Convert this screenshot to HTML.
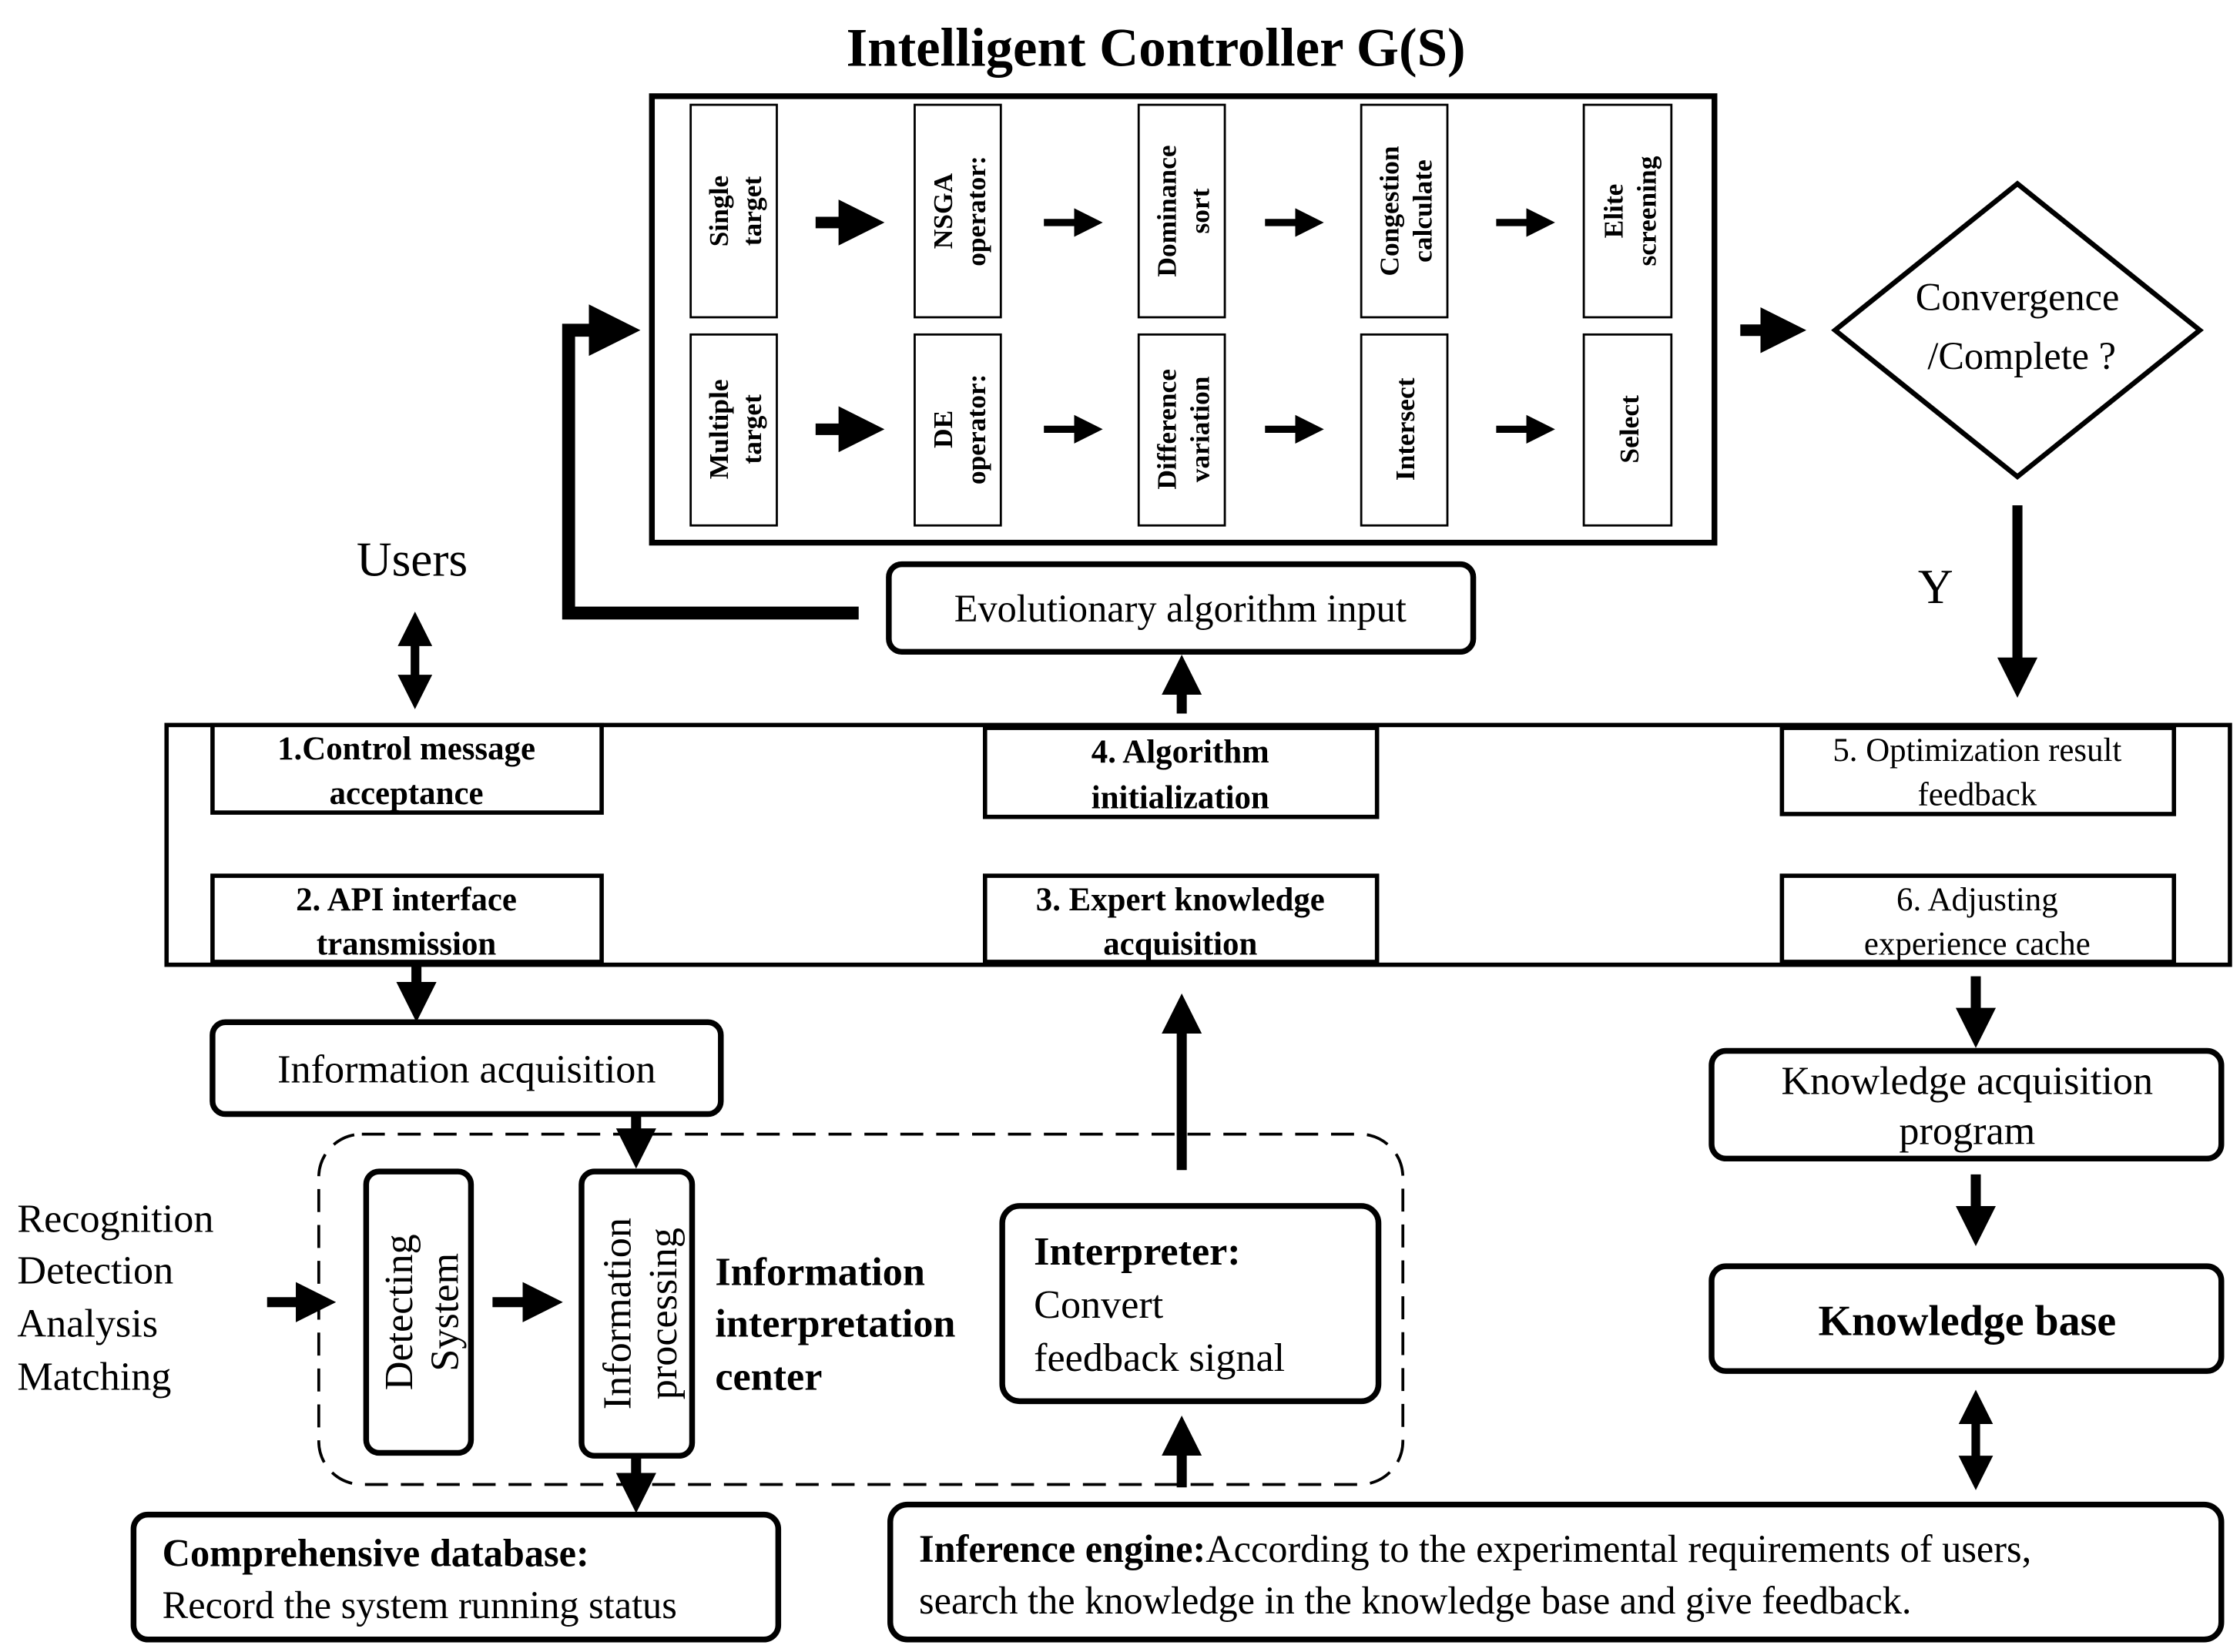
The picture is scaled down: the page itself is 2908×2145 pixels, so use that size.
<!DOCTYPE html>
<html><head><meta charset="utf-8"><style>html,body{margin:0;padding:0;background:#fff}svg{display:block}svg text{font-family:"Liberation Serif","Times New Roman",serif}</style></head>
<body>
<svg xmlns="http://www.w3.org/2000/svg" width="2908" height="2145" viewBox="0 0 1560 1150.7" font-family="'Liberation Serif', serif">
<defs>
<marker id="ah" viewBox="0 0 10 10" refX="5" refY="5" markerWidth="4" markerHeight="4" orient="auto-start-reverse"><path d="M0,0 L10,5 L0,10 z" fill="#000"/></marker>
</defs>
<rect width="1560" height="1151" fill="#fff"/>
<text x="805" y="46" font-size="38" font-weight="bold" text-anchor="middle">Intelligent Controller G(S)</text>
<rect x="454" y="67" width="740" height="311" fill="none" stroke="#000" stroke-width="4"/>
<g fill="none" stroke="#000" stroke-width="1.5">
<rect x="481" y="73" width="60" height="148"/><rect x="637" y="73" width="60" height="148"/><rect x="793" y="73" width="60" height="148"/><rect x="948" y="73" width="60" height="148"/><rect x="1103" y="73" width="61" height="148"/>
<rect x="481" y="233" width="60" height="133"/><rect x="637" y="233" width="60" height="133"/><rect x="793" y="233" width="60" height="133"/><rect x="948" y="233" width="60" height="133"/><rect x="1103" y="233" width="61" height="133"/>
</g>
<g font-size="19" font-weight="bold" text-anchor="middle">
<text transform="translate(511,147) rotate(-90)"><tspan x="0" y="-4">Single</tspan><tspan x="0" y="19">target</tspan></text>
<text transform="translate(667,147) rotate(-90)"><tspan x="0" y="-4">NSGA</tspan><tspan x="0" y="19">operator:</tspan></text>
<text transform="translate(823,147) rotate(-90)"><tspan x="0" y="-4">Dominance</tspan><tspan x="0" y="19">sort</tspan></text>
<text transform="translate(978,147) rotate(-90)"><tspan x="0" y="-4">Congestion</tspan><tspan x="0" y="19">calculate</tspan></text>
<text transform="translate(1134,147) rotate(-90)"><tspan x="0" y="-4">Elite</tspan><tspan x="0" y="19">screening</tspan></text>
<text transform="translate(511,299) rotate(-90)"><tspan x="0" y="-4">Multiple</tspan><tspan x="0" y="19">target</tspan></text>
<text transform="translate(667,299) rotate(-90)"><tspan x="0" y="-4">DE</tspan><tspan x="0" y="19">operator:</tspan></text>
<text transform="translate(823,299) rotate(-90)"><tspan x="0" y="-4">Difference</tspan><tspan x="0" y="19">variation</tspan></text>
<text transform="translate(978,299) rotate(-90)"><tspan x="0" y="7">Intersect</tspan></text>
<text transform="translate(1134,299) rotate(-90)"><tspan x="0" y="7">Select</tspan></text>
</g>
<g stroke="#000" fill="none">
<line x1="568" y1="155" x2="600" y2="155" stroke-width="8" marker-end="url(#ah)"/>
<line x1="568" y1="299" x2="600" y2="299" stroke-width="8" marker-end="url(#ah)"/>
<line x1="727" y1="155" x2="758" y2="155" stroke-width="5" marker-end="url(#ah)"/>
<line x1="881" y1="155" x2="912" y2="155" stroke-width="5" marker-end="url(#ah)"/>
<line x1="1042" y1="155" x2="1073" y2="155" stroke-width="5" marker-end="url(#ah)"/>
<line x1="727" y1="299" x2="758" y2="299" stroke-width="5" marker-end="url(#ah)"/>
<line x1="881" y1="299" x2="912" y2="299" stroke-width="5" marker-end="url(#ah)"/>
<line x1="1042" y1="299" x2="1073" y2="299" stroke-width="5" marker-end="url(#ah)"/>
<line x1="1212" y1="230" x2="1242" y2="230" stroke-width="8" marker-end="url(#ah)"/>
<polyline points="598,427 396,427 396,230 428,230" stroke-width="9" marker-end="url(#ah)"/>
<line x1="1405" y1="352" x2="1405" y2="472" stroke-width="7" marker-end="url(#ah)"/>
<line x1="823" y1="497" x2="823" y2="470" stroke-width="7" marker-end="url(#ah)"/>
<line x1="289" y1="438" x2="289" y2="482" stroke-width="6" marker-start="url(#ah)" marker-end="url(#ah)"/>
<line x1="290" y1="672" x2="290" y2="698" stroke-width="7" marker-end="url(#ah)"/>
<line x1="443" y1="776" x2="443" y2="800" stroke-width="7" marker-end="url(#ah)"/>
<line x1="186" y1="907" x2="220" y2="907" stroke-width="7" marker-end="url(#ah)"/>
<line x1="343" y1="907" x2="378" y2="907" stroke-width="7" marker-end="url(#ah)"/>
<line x1="823" y1="815" x2="823" y2="706" stroke-width="7" marker-end="url(#ah)"/>
<line x1="823" y1="1036" x2="823" y2="1000" stroke-width="7" marker-end="url(#ah)"/>
<line x1="443" y1="1014" x2="443" y2="1040" stroke-width="7" marker-end="url(#ah)"/>
<line x1="1376" y1="680" x2="1376" y2="716" stroke-width="7" marker-end="url(#ah)"/>
<line x1="1376" y1="818" x2="1376" y2="854" stroke-width="7" marker-end="url(#ah)"/>
<line x1="1376" y1="980" x2="1376" y2="1026" stroke-width="6" marker-start="url(#ah)" marker-end="url(#ah)"/>
</g>
<polygon points="1405,128 1532,230 1405,332 1278,230" fill="#fff" stroke="#000" stroke-width="3.5"/>
<text x="1405" y="216" font-size="27" text-anchor="middle">Convergence</text>
<text x="1408" y="257" font-size="27" text-anchor="middle">/Complete ?</text>
<text x="1348" y="420" font-size="34" text-anchor="middle">Y</text>
<text x="287" y="401" font-size="34" text-anchor="middle">Users</text>
<rect x="619" y="393" width="407" height="61" rx="9" fill="none" stroke="#000" stroke-width="4"/>
<text x="822" y="433" font-size="27" text-anchor="middle">Evolutionary algorithm input</text>
<rect x="116" y="505" width="1437" height="167" fill="none" stroke="#000" stroke-width="3"/>
<g fill="#fff" stroke="#000" stroke-width="3">
<rect x="148" y="505" width="271" height="61"/><rect x="686" y="507" width="273" height="62"/><rect x="1241" y="507" width="273" height="60"/>
<rect x="148" y="610" width="271" height="60"/><rect x="686" y="610" width="273" height="60"/><rect x="1241" y="610" width="273" height="60"/>
</g>
<g font-size="23" text-anchor="middle">
<text x="283" y="529" font-weight="bold">1.Control message</text><text x="283" y="560" font-weight="bold">acceptance</text>
<text x="822" y="531" font-weight="bold">4. Algorithm</text><text x="822" y="563" font-weight="bold">initialization</text>
<text x="1377" y="530">5. Optimization result</text><text x="1377" y="561">feedback</text>
<text x="283" y="634" font-weight="bold">2. API interface</text><text x="283" y="665" font-weight="bold">transmission</text>
<text x="822" y="634" font-weight="bold">3. Expert knowledge</text><text x="822" y="665" font-weight="bold">acquisition</text>
<text x="1377" y="634">6. Adjusting</text><text x="1377" y="665">experience cache</text>
</g>
<rect x="148" y="712" width="354" height="64" rx="9" fill="none" stroke="#000" stroke-width="4"/>
<text x="325" y="754" font-size="28" text-anchor="middle">Information acquisition</text>
<rect x="222" y="790" width="755" height="244" rx="30" fill="none" stroke="#000" stroke-width="2" stroke-dasharray="16,9"/>
<rect x="255" y="816" width="73" height="196" rx="9" fill="none" stroke="#000" stroke-width="4"/>
<rect x="405" y="816" width="77" height="198" rx="9" fill="none" stroke="#000" stroke-width="4"/>
<text transform="translate(291,914) rotate(-90)" font-size="28" text-anchor="middle"><tspan x="0" y="-4">Detecting</tspan><tspan x="0" y="28">System</tspan></text>
<text transform="translate(443,915) rotate(-90)" font-size="28" text-anchor="middle"><tspan x="0" y="-4">Information</tspan><tspan x="0" y="28">processing</tspan></text>
<g font-size="28"><text x="12" y="858">Recognition</text><text x="12" y="894">Detection</text><text x="12" y="931">Analysis</text><text x="12" y="968">Matching</text></g>
<g font-size="28" font-weight="bold"><text x="498" y="895">Information</text><text x="498" y="931">interpretation</text><text x="498" y="968">center</text></g>
<rect x="698" y="840" width="262" height="136" rx="12" fill="none" stroke="#000" stroke-width="4"/>
<text x="720" y="881" font-size="28" font-weight="bold">Interpreter:</text>
<text x="720" y="918" font-size="28">Convert</text>
<text x="720" y="955" font-size="28">feedback signal</text>
<rect x="93" y="1055" width="449" height="87" rx="10" fill="none" stroke="#000" stroke-width="4"/>
<text x="113" y="1091" font-size="27" font-weight="bold">Comprehensive database:</text>
<text x="113" y="1127" font-size="27">Record the system running status</text>
<rect x="620" y="1048" width="927" height="94" rx="12" fill="none" stroke="#000" stroke-width="4"/>
<text x="640" y="1088" font-size="27"><tspan font-weight="bold">Inference engine:</tspan>According to the experimental requirements of users,</text>
<text x="640" y="1124" font-size="27">search the knowledge in the knowledge base and give feedback.</text>
<rect x="1192" y="732" width="355" height="75" rx="10" fill="none" stroke="#000" stroke-width="4"/>
<text x="1370" y="762" font-size="28" text-anchor="middle">Knowledge acquisition</text>
<text x="1370" y="797" font-size="28" text-anchor="middle">program</text>
<rect x="1192" y="882" width="355" height="73" rx="10" fill="none" stroke="#000" stroke-width="4"/>
<text x="1370" y="930" font-size="30" font-weight="bold" text-anchor="middle">Knowledge base</text>
</svg>
</body></html>
